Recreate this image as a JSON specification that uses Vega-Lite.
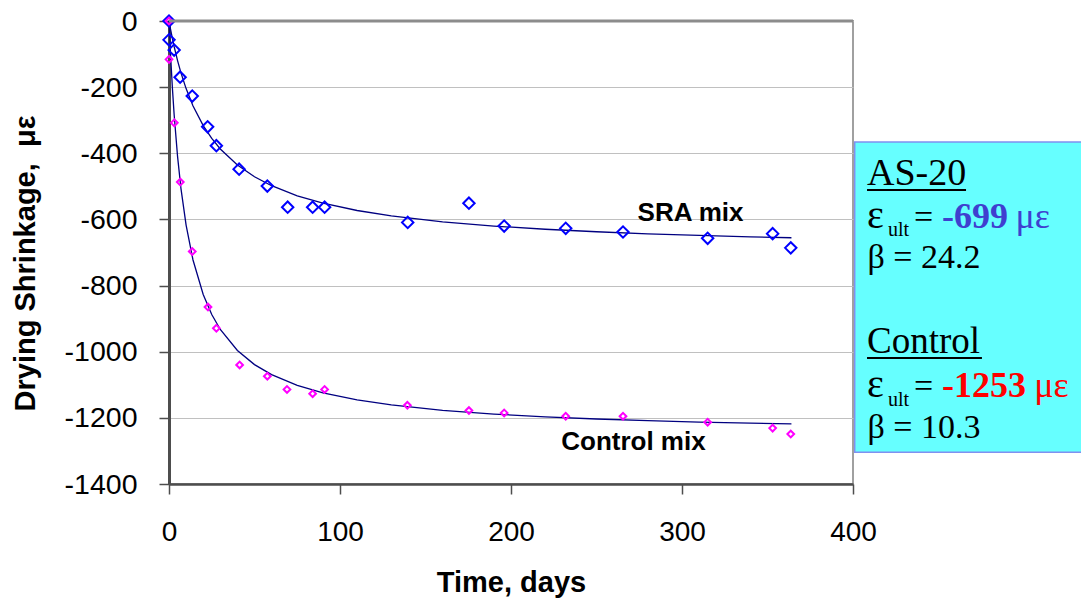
{
  "$schema": "https://vega.github.io/schema/vega-lite/v6.json",
  "width": 684,
  "height": 463,
  "autosize": {"type": "none"},
  "padding": {"left": 169, "top": 21, "right": 228, "bottom": 117},
  "background": "white",
  "config": {"view": {"stroke": "#a0a0a0", "strokeWidth": 2}, "font": "Liberation Sans"},
  "datasets": {
    "points": [
      {"series": "SRA", "day": 0, "value": 0},
      {"series": "SRA", "day": 0, "value": -57},
      {"series": "SRA", "day": 3, "value": -88},
      {"series": "SRA", "day": 6.5, "value": -170},
      {"series": "SRA", "day": 13.6, "value": -227},
      {"series": "SRA", "day": 22.6, "value": -320},
      {"series": "SRA", "day": 27.7, "value": -377},
      {"series": "SRA", "day": 41, "value": -448},
      {"series": "SRA", "day": 57.5, "value": -499},
      {"series": "SRA", "day": 69.4, "value": -563},
      {"series": "SRA", "day": 84, "value": -563},
      {"series": "SRA", "day": 91, "value": -563},
      {"series": "SRA", "day": 139.6, "value": -609},
      {"series": "SRA", "day": 175.4, "value": -551},
      {"series": "SRA", "day": 196, "value": -620},
      {"series": "SRA", "day": 232, "value": -627},
      {"series": "SRA", "day": 265.5, "value": -638},
      {"series": "SRA", "day": 315, "value": -657},
      {"series": "SRA", "day": 353, "value": -643},
      {"series": "SRA", "day": 363.6, "value": -686},
      {"series": "Control", "day": 0, "value": 0},
      {"series": "Control", "day": 0, "value": -116},
      {"series": "Control", "day": 3.1, "value": -308},
      {"series": "Control", "day": 6.6, "value": -487},
      {"series": "Control", "day": 13.6, "value": -697},
      {"series": "Control", "day": 22.8, "value": -865},
      {"series": "Control", "day": 27.7, "value": -929},
      {"series": "Control", "day": 41.3, "value": -1040},
      {"series": "Control", "day": 57.5, "value": -1074},
      {"series": "Control", "day": 69, "value": -1114},
      {"series": "Control", "day": 84, "value": -1127},
      {"series": "Control", "day": 91, "value": -1114},
      {"series": "Control", "day": 139.4, "value": -1162},
      {"series": "Control", "day": 175.4, "value": -1178},
      {"series": "Control", "day": 196, "value": -1185},
      {"series": "Control", "day": 232, "value": -1195},
      {"series": "Control", "day": 265.5, "value": -1195},
      {"series": "Control", "day": 315, "value": -1213},
      {"series": "Control", "day": 353, "value": -1231},
      {"series": "Control", "day": 363.6, "value": -1249}
    ],
    "fits": [
      {"series": "SRA", "day": 0, "value": 0},
      {"series": "SRA", "day": 1, "value": -27.7},
      {"series": "SRA", "day": 2, "value": -53.4},
      {"series": "SRA", "day": 3, "value": -77.1},
      {"series": "SRA", "day": 5, "value": -119.7},
      {"series": "SRA", "day": 7, "value": -156.8},
      {"series": "SRA", "day": 10, "value": -204.4},
      {"series": "SRA", "day": 14, "value": -256.2},
      {"series": "SRA", "day": 20, "value": -316.3},
      {"series": "SRA", "day": 25, "value": -355.2},
      {"series": "SRA", "day": 30, "value": -386.9},
      {"series": "SRA", "day": 40, "value": -435.5},
      {"series": "SRA", "day": 50, "value": -471.0},
      {"series": "SRA", "day": 60, "value": -498.1},
      {"series": "SRA", "day": 75, "value": -528.5},
      {"series": "SRA", "day": 90, "value": -550.9},
      {"series": "SRA", "day": 110, "value": -573.0},
      {"series": "SRA", "day": 130, "value": -589.3},
      {"series": "SRA", "day": 160, "value": -607.2},
      {"series": "SRA", "day": 190, "value": -620.0},
      {"series": "SRA", "day": 220, "value": -629.7},
      {"series": "SRA", "day": 250, "value": -637.3},
      {"series": "SRA", "day": 280, "value": -643.4},
      {"series": "SRA", "day": 310, "value": -648.4},
      {"series": "SRA", "day": 340, "value": -652.6},
      {"series": "SRA", "day": 364, "value": -655.4},
      {"series": "Control", "day": 0, "value": 0},
      {"series": "Control", "day": 1, "value": -110.9},
      {"series": "Control", "day": 2, "value": -203.7},
      {"series": "Control", "day": 3, "value": -282.6},
      {"series": "Control", "day": 5, "value": -409.5},
      {"series": "Control", "day": 7, "value": -507.0},
      {"series": "Control", "day": 10, "value": -617.2},
      {"series": "Control", "day": 14, "value": -721.9},
      {"series": "Control", "day": 20, "value": -827.1},
      {"series": "Control", "day": 25, "value": -887.4},
      {"series": "Control", "day": 30, "value": -932.8},
      {"series": "Control", "day": 40, "value": -996.4},
      {"series": "Control", "day": 50, "value": -1039.0},
      {"series": "Control", "day": 60, "value": -1069.4},
      {"series": "Control", "day": 75, "value": -1101.7},
      {"series": "Control", "day": 90, "value": -1124.3},
      {"series": "Control", "day": 110, "value": -1145.7},
      {"series": "Control", "day": 130, "value": -1161.0},
      {"series": "Control", "day": 160, "value": -1177.2},
      {"series": "Control", "day": 190, "value": -1188.6},
      {"series": "Control", "day": 220, "value": -1197.0},
      {"series": "Control", "day": 250, "value": -1203.4},
      {"series": "Control", "day": 280, "value": -1208.5},
      {"series": "Control", "day": 310, "value": -1212.7},
      {"series": "Control", "day": 340, "value": -1216.2},
      {"series": "Control", "day": 364, "value": -1218.5}
    ],
    "one": [{}]
  },
  "layer": [
    {
      "data": {"name": "fits"},
      "mark": {"type": "line", "color": "#000080", "strokeWidth": 1.3},
      "encoding": {
        "x": {
          "field": "day", "type": "quantitative",
          "scale": {"domain": [0, 400], "nice": false, "zero": false},
          "axis": {
            "title": "Time, days", "values": [0, 100, 200, 300, 400], "grid": false,
            "labelExpr": "'' + datum.value",
            "domainColor": "#4d4d4d", "domainWidth": 2.5, "tickColor": "#4d4d4d", "tickWidth": 1.5, "tickSize": 10,
            "labelFont": "Liberation Sans", "labelFontSize": 28, "labelColor": "#000000", "labelPadding": 24,
            "labelFlush": false, "labelOverlap": false,
            "titleFont": "Liberation Sans", "titleFontSize": 29, "titleFontWeight": "bold", "titleColor": "#000000", "titlePadding": 22
          }
        },
        "y": {
          "field": "value", "type": "quantitative",
          "scale": {"domain": [-1400, 0], "nice": false, "zero": false},
          "axis": {
            "title": "Drying Shrinkage,\u00a0\u00a0με", "values": [0, -200, -400, -600, -800, -1000, -1200, -1400],
            "labelExpr": "'' + datum.value",
            "grid": true, "gridColor": "#c0c0c0", "gridWidth": 1,
            "domainColor": "#4d4d4d", "domainWidth": 3, "tickColor": "#4d4d4d", "tickWidth": 1.5, "tickSize": 10,
            "labelFont": "Liberation Sans", "labelFontSize": 28.5, "labelColor": "#000000", "labelPadding": 22,
            "labelFlush": false, "labelOverlap": false,
            "titleFont": "Liberation Sans", "titleFontSize": 29, "titleFontWeight": "bold", "titleColor": "#000000", "titlePadding": 24,
            "titleY": 242
          }
        },
        "detail": {"field": "series"}
      }
    },
    {
      "data": {"name": "points"},
      "transform": [{"filter": "datum.series === 'SRA'"}],
      "mark": {"type": "point", "shape": "diamond", "filled": false, "stroke": "#0000ff", "strokeWidth": 2, "size": 130, "opacity": 1},
      "encoding": {
        "x": {"field": "day", "type": "quantitative"},
        "y": {"field": "value", "type": "quantitative"}
      }
    },
    {
      "data": {"name": "points"},
      "transform": [{"filter": "datum.series === 'Control'"}],
      "mark": {"type": "point", "shape": "diamond", "filled": false, "stroke": "#ff00ff", "strokeWidth": 2, "size": 45, "opacity": 1},
      "encoding": {
        "x": {"field": "day", "type": "quantitative"},
        "y": {"field": "value", "type": "quantitative"}
      }
    },
    {
      "data": {"name": "one"},
      "mark": {"type": "rule", "color": "#8c8c8c", "strokeWidth": 3},
      "encoding": {"y": {"datum": 0}}
    },
    {
      "data": {"name": "one"},
      "mark": {"type": "text", "text": "SRA mix", "font": "Liberation Sans", "fontWeight": "bold", "fontSize": 26, "align": "center", "baseline": "alphabetic", "color": "#000000"},
      "encoding": {"x": {"datum": 305}, "y": {"datum": -604}}
    },
    {
      "data": {"name": "one"},
      "mark": {"type": "text", "text": "Control mix", "font": "Liberation Sans", "fontWeight": "bold", "fontSize": 26, "align": "center", "baseline": "alphabetic", "color": "#000000"},
      "encoding": {"x": {"datum": 271.6}, "y": {"datum": -1297}}
    },
    {
      "data": {"name": "one"},
      "mark": {"type": "rect", "fill": "#66ffff", "stroke": "#8090f0", "strokeWidth": 1.5},
      "encoding": {"x": {"datum": 401}, "x2": {"datum": 540}, "y": {"datum": -366}, "y2": {"datum": -1304}}
    },
    {
      "data": {"name": "one"},
      "mark": {"type": "text", "text": "AS-20", "font": "Liberation Serif", "fontSize": 38, "align": "left", "baseline": "alphabetic", "color": "#000000"},
      "encoding": {"x": {"datum": 408.2}, "y": {"datum": -496}}
    },
    {
      "data": {"name": "one"},
      "mark": {"type": "rule", "color": "#000000", "strokeWidth": 2},
      "encoding": {"x": {"datum": 408.2}, "x2": {"datum": 466.1}, "y": {"datum": -511}}
    },
    {
      "data": {"name": "one"},
      "mark": {"type": "text", "text": "ε", "font": "Liberation Serif", "fontSize": 40, "align": "left", "baseline": "alphabetic", "color": "#000000"},
      "encoding": {"x": {"datum": 408.2}, "y": {"datum": -626}}
    },
    {
      "data": {"name": "one"},
      "mark": {"type": "text", "text": "ult", "font": "Liberation Serif", "fontSize": 20, "align": "left", "baseline": "alphabetic", "color": "#000000"},
      "encoding": {"x": {"datum": 420.5}, "y": {"datum": -650}}
    },
    {
      "data": {"name": "one"},
      "mark": {"type": "text", "text": "=", "font": "Liberation Serif", "fontSize": 34, "align": "left", "baseline": "alphabetic", "color": "#000000"},
      "encoding": {"x": {"datum": 435.7}, "y": {"datum": -626}}
    },
    {
      "data": {"name": "one"},
      "mark": {"type": "text", "text": "-699", "font": "Liberation Serif", "fontWeight": "bold", "fontSize": 36, "align": "left", "baseline": "alphabetic", "color": "#3f3fcf"},
      "encoding": {"x": {"datum": 452}, "y": {"datum": -626}}
    },
    {
      "data": {"name": "one"},
      "mark": {"type": "text", "text": "με", "font": "Liberation Serif", "fontSize": 36, "align": "left", "baseline": "alphabetic", "color": "#3f3fcf"},
      "encoding": {"x": {"datum": 495}, "y": {"datum": -626}}
    },
    {
      "data": {"name": "one"},
      "mark": {"type": "text", "text": "β = 24.2", "font": "Liberation Serif", "fontSize": 34, "align": "left", "baseline": "alphabetic", "color": "#000000"},
      "encoding": {"x": {"datum": 408.5}, "y": {"datum": -747}}
    },
    {
      "data": {"name": "one"},
      "mark": {"type": "text", "text": "Control", "font": "Liberation Serif", "fontSize": 37, "align": "left", "baseline": "alphabetic", "color": "#000000"},
      "encoding": {"x": {"datum": 408.2}, "y": {"datum": -1004}}
    },
    {
      "data": {"name": "one"},
      "mark": {"type": "rule", "color": "#000000", "strokeWidth": 2},
      "encoding": {"x": {"datum": 408.2}, "x2": {"datum": 475.4}, "y": {"datum": -1019}}
    },
    {
      "data": {"name": "one"},
      "mark": {"type": "text", "text": "ε", "font": "Liberation Serif", "fontSize": 40, "align": "left", "baseline": "alphabetic", "color": "#000000"},
      "encoding": {"x": {"datum": 408.2}, "y": {"datum": -1137}}
    },
    {
      "data": {"name": "one"},
      "mark": {"type": "text", "text": "ult", "font": "Liberation Serif", "fontSize": 20, "align": "left", "baseline": "alphabetic", "color": "#000000"},
      "encoding": {"x": {"datum": 420.5}, "y": {"datum": -1164}}
    },
    {
      "data": {"name": "one"},
      "mark": {"type": "text", "text": "=", "font": "Liberation Serif", "fontSize": 34, "align": "left", "baseline": "alphabetic", "color": "#000000"},
      "encoding": {"x": {"datum": 435.7}, "y": {"datum": -1137}}
    },
    {
      "data": {"name": "one"},
      "mark": {"type": "text", "text": "-1253", "font": "Liberation Serif", "fontWeight": "bold", "fontSize": 36, "align": "left", "baseline": "alphabetic", "color": "#ff0000"},
      "encoding": {"x": {"datum": 452}, "y": {"datum": -1137}}
    },
    {
      "data": {"name": "one"},
      "mark": {"type": "text", "text": "με", "font": "Liberation Serif", "fontSize": 36, "align": "left", "baseline": "alphabetic", "color": "#ff0000"},
      "encoding": {"x": {"datum": 506}, "y": {"datum": -1137}}
    },
    {
      "data": {"name": "one"},
      "mark": {"type": "text", "text": "β = 10.3", "font": "Liberation Serif", "fontSize": 34, "align": "left", "baseline": "alphabetic", "color": "#000000"},
      "encoding": {"x": {"datum": 408.5}, "y": {"datum": -1261}}
    }
  ]
}
